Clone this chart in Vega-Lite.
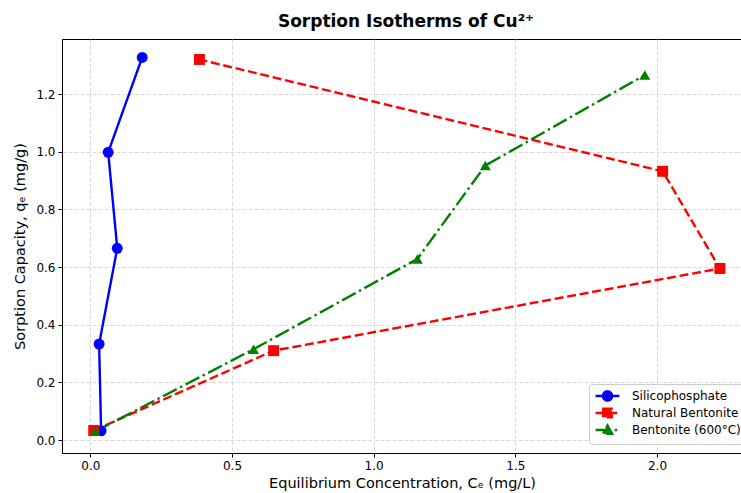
{
  "$schema": "https://vega.github.io/schema/vega-lite/v6.json",
  "width": 680,
  "height": 414,
  "autosize": {"type": "none"},
  "padding": {"left": 62, "top": 39, "right": 0, "bottom": 40},
  "background": "white",
  "title": {"text": "Sorption Isotherms of Cu²⁺", "fontSize": 17, "fontWeight": "bold", "font": "DejaVu Sans", "color": "black", "anchor": "middle", "offset": 8, "dx": 4},
  "data": {"values": [
    {"series": "Silicophosphate", "Ce": 0.038, "qe": 0.032},
    {"series": "Silicophosphate", "Ce": 0.031, "qe": 0.333},
    {"series": "Silicophosphate", "Ce": 0.095, "qe": 0.665},
    {"series": "Silicophosphate", "Ce": 0.063, "qe": 0.998},
    {"series": "Silicophosphate", "Ce": 0.183, "qe": 1.327},
    {"series": "Natural Bentonite", "Ce": 0.012, "qe": 0.033},
    {"series": "Natural Bentonite", "Ce": 0.647, "qe": 0.31},
    {"series": "Natural Bentonite", "Ce": 2.222, "qe": 0.595},
    {"series": "Natural Bentonite", "Ce": 2.02, "qe": 0.932},
    {"series": "Natural Bentonite", "Ce": 0.385, "qe": 1.32},
    {"series": "Bentonite (600°C)", "Ce": 0.018, "qe": 0.03},
    {"series": "Bentonite (600°C)", "Ce": 0.576, "qe": 0.315},
    {"series": "Bentonite (600°C)", "Ce": 1.154, "qe": 0.628},
    {"series": "Bentonite (600°C)", "Ce": 1.394, "qe": 0.952},
    {"series": "Bentonite (600°C)", "Ce": 1.957, "qe": 1.266}
  ]},
  "encoding": {
    "x": {"field": "Ce", "type": "quantitative",
      "scale": {"domain": [-0.1, 2.3], "nice": false, "zero": false},
      "axis": {"values": [0, 0.5, 1, 1.5, 2], "format": ".1f", "title": "Equilibrium Concentration, Cₑ (mg/L)", "titlePadding": 5}},
    "y": {"field": "qe", "type": "quantitative",
      "scale": {"domain": [-0.045, 1.391], "nice": false, "zero": false},
      "axis": {"values": [0, 0.2, 0.4, 0.6, 0.8, 1.0, 1.2], "format": ".1f", "title": "Sorption Capacity, qₑ (mg/g)", "titlePadding": 8}}
  },
  "layer": [
    {
      "mark": {"type": "line", "strokeWidth": 2.4, "clip": true},
      "encoding": {
        "color": {"field": "series", "type": "nominal",
          "scale": {"domain": ["Silicophosphate", "Natural Bentonite", "Bentonite (600°C)"], "range": ["#0000ff", "#ff0000", "#008000"]}},
        "strokeDash": {"field": "series", "type": "nominal",
          "scale": {"domain": ["Silicophosphate", "Natural Bentonite", "Bentonite (600°C)"], "range": [[1, 0], [8.9, 3.8], [15.4, 3.8, 2.4, 3.8]]}},
        "order": {"field": "qe"}
      }
    },
    {
      "transform": [{"filter": "datum.series === 'Silicophosphate'"}],
      "mark": {"type": "point", "shape": "circle", "filled": true, "opacity": 1, "size": 120, "clip": true},
      "encoding": {"color": {"field": "series", "type": "nominal"}}
    },
    {
      "transform": [{"filter": "datum.series === 'Natural Bentonite'"}],
      "mark": {"type": "point", "shape": "square", "filled": true, "opacity": 1, "size": 120, "clip": true},
      "encoding": {"color": {"field": "series", "type": "nominal"}}
    },
    {
      "transform": [{"filter": "datum.series === 'Bentonite (600°C)'"}],
      "mark": {"type": "point", "shape": "triangle-up", "filled": true, "opacity": 1, "size": 120, "clip": true},
      "encoding": {"color": {"field": "series", "type": "nominal"}}
    },
    {
      "transform": [{"filter": "datum.qe > 99"}],
      "mark": {"type": "point", "filled": true, "opacity": 1, "size": 117, "strokeWidth": 2.4},
      "encoding": {
        "color": {"field": "series", "type": "nominal",
          "legend": {
            "orient": "none", "legendX": 527, "legendY": 345, "title": null,
            "symbolSize": 117, "symbolStrokeWidth": 2.4, "symbolOpacity": 1, "labelOffset": 24,
            "labelFontSize": 12, "labelFont": "DejaVu Sans", "labelColor": "black",
            "padding": 5, "rowPadding": -3, "fillColor": "rgba(255,255,255,0.8)", "strokeColor": "#cccccc", "cornerRadius": 3
          }},
        "stroke": {"field": "series", "type": "nominal",
          "scale": {"domain": ["Silicophosphate", "Natural Bentonite", "Bentonite (600°C)"], "range": ["#0000ff", "#ff0000", "#008000"]}},
        "shape": {"field": "series", "type": "nominal",
          "scale": {"domain": ["Silicophosphate", "Natural Bentonite", "Bentonite (600°C)"], "range": [
            "M-1,0L3.4,0M0.35,0A0.85,0.85 0 1,1 2.05,0A0.85,0.85 0 1,1 0.35,0Z",
            "M-1,0L3.4,0M0.42,-0.78L1.98,-0.78L1.98,0.78L0.42,0.78Z",
            "M-1,0L3.4,0M1.2,-0.85L2.05,0.7L0.35,0.7Z"]}},
        "strokeDash": {"field": "series", "type": "nominal"}
      }
    }
  ],
  "config": {
    "view": {"stroke": "black", "strokeWidth": 1},
    "axis": {
      "domainColor": "black", "domainWidth": 1, "tickColor": "black", "tickSize": 4,
      "labelFont": "DejaVu Sans", "labelFontSize": 12, "labelColor": "black", "labelPadding": 3,
      "titleFont": "DejaVu Sans", "titleFontSize": 14.5, "titleFontWeight": "normal", "titleColor": "black",
      "gridColor": "#cfcfcf", "gridDash": [4, 2], "gridWidth": 0.8
    }
  }
}
